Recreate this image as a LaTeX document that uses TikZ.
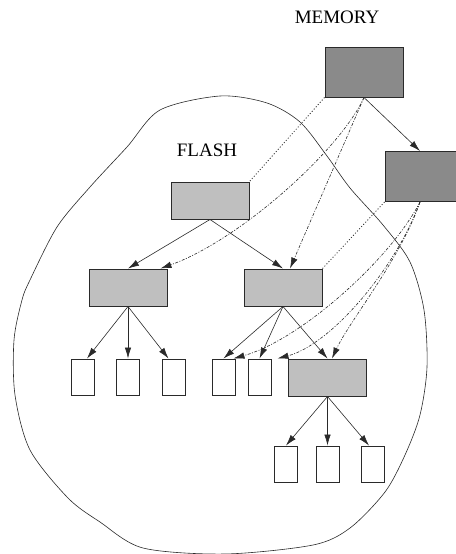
\documentclass[tikz,border=0pt]{standalone}
\usepackage{fontspec}
\setmainfont{Liberation Serif}
\usetikzlibrary{arrows.meta}
\definecolor{darkfill}{HTML}{8A8A8A}
\definecolor{lightfill}{HTML}{BFBFBF}
\definecolor{edgecol}{HTML}{2A2A2A}
\begin{document}
\begin{tikzpicture}[x=1pt,y=-1pt,
  membox/.style={draw=edgecol,line width=1pt,fill=darkfill,minimum width=78pt,minimum height=50pt,inner sep=0pt},
  flbox/.style={draw=edgecol,line width=1pt,fill=lightfill,minimum width=78pt,minimum height=37pt,inner sep=0pt},
  leaf/.style={draw=edgecol,line width=1pt,fill=white,minimum width=23pt,minimum height=36pt,inner sep=0pt},
  edge/.style={draw=edgecol,line width=0.6pt,-{Latex[length=11pt,width=6.5pt]}},
  dashline/.style={draw=edgecol,line width=0.6pt,dash pattern=on 3pt off 1.5pt on 1pt off 1.5pt,-{Latex[length=11pt,width=6.5pt]}},
  dotline/.style={draw=edgecol,line width=0.8pt,dash pattern=on 1pt off 2pt},
  blob/.style={draw=edgecol,line width=0.6pt},
  label/.style={font=\fontsize{19}{23}\selectfont,inner sep=0pt}]
\useasboundingbox (0,0) rectangle (455,554);

% outline of flash region
\draw[blob] plot[smooth cycle,tension=0.5] coordinates {
 (220,96) (267,103) (300,122) (327,156) (350,188) (383,225) (410,262) (424,310) (427,367)
 (420,415) (405,455) (385,492) (350,528) (313,545) (225,554) (143,548) (100,522)
 (68,498) (30,450) (15,395) (14,340) (22,300) (30,280) (57,227) (90,187) (127,147) (160,110)};

\node[label] (tmem) at (337,17) {MEMORY};
\node[label] (tfl) at (207,150) {FLASH};

\node[membox] (mem) at (364,72) {};
\node[membox,minimum width=75pt] (rb) at (422.5,176.5) {};
\node[flbox] (f0) at (210,200.5) {};
\node[flbox] (f1) at (128,287.5) {};
\node[flbox] (f2) at (283,287.5) {};
\node[flbox] (f3) at (327.5,377.5) {};

\node[leaf] (a1) at (83,377) {};
\node[leaf] (a2) at (128,377) {};
\node[leaf] (a3) at (173.5,377) {};
\node[leaf] (a4) at (223.5,377) {};
\node[leaf] (a5) at (259.5,377) {};
\node[leaf] (b1) at (286,464) {};
\node[leaf] (b2) at (327.5,464) {};
\node[leaf] (b3) at (373,464) {};

\coordinate (rbin) at ([xshift=-2.5pt]rb.north);
\coordinate (rbout) at ([xshift=-2.5pt]rb.south);

% tree edges
\draw[edge] (mem.south) -- (rbin);
\draw[edge] (f0.south) -- (f1.north);
\draw[edge] (f0.south) -- (f2.north);
\draw[edge] (f1.south) -- ([xshift=4pt]a1.north);
\draw[edge] (f1.south) -- (a2.north);
\draw[edge] (f1.south) -- ([xshift=-5pt]a3.north);
\draw[edge] (f2.south) -- (a4.north);
\draw[edge] (f2.south) -- (a5.north);
\draw[edge] (f2.south) -- (f3.north);
\draw[edge] (f3.south) -- (b1.north);
\draw[edge] (f3.south) -- (b2.north);
\draw[edge] (f3.south) -- ([xshift=-4pt]b3.north);

% memory to flash links
\draw[dotline] (mem.south west) -- (f0.north east);
\draw[dotline] (rb.south west) -- (f2.north east);
\draw[dashline] (mem.south) .. controls (340,150) and (240,240) .. ([xshift=-7pt]f1.north east);
\draw[dashline] (mem.south) -- ([xshift=7pt]f2.north);
\draw[dashline] (rbout) .. controls (390,260) and (300,340) .. ([xshift=-2pt]a4.north east);
\draw[dashline] (rbout) .. controls (395,270) and (330,345) .. ([xshift=6pt]a5.north east);
\draw[dashline] (rbout) .. controls (400,260) and (350,320) .. ([xshift=4.5pt]f3.north);
\end{tikzpicture}
\end{document}
